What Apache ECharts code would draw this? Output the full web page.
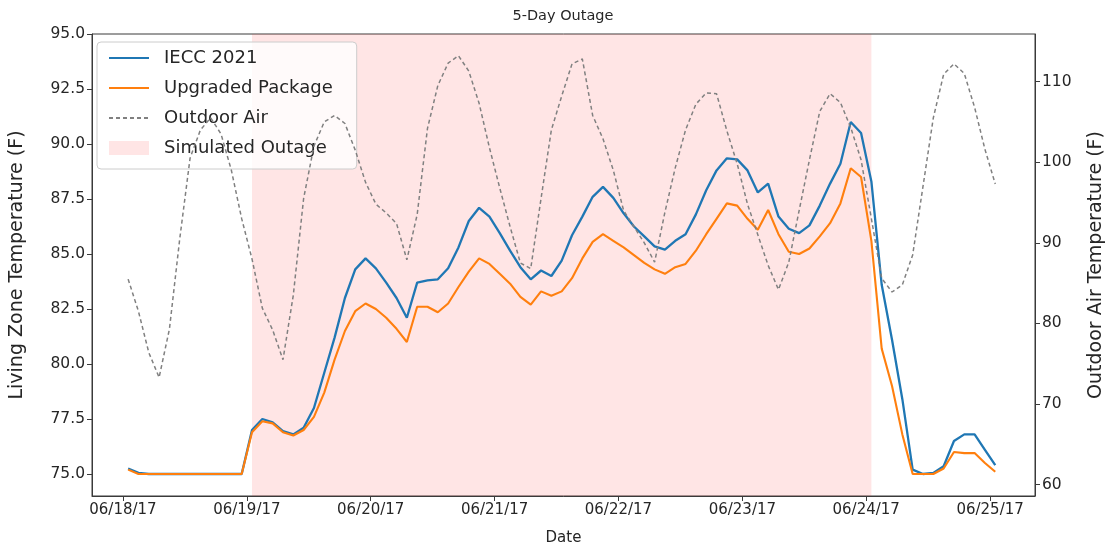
<!DOCTYPE html>
<html>
<head>
<meta charset="utf-8">
<script src="https://cdn.jsdelivr.net/npm/echarts@6/dist/echarts.min.js"></script>
<style>
  html, body { margin: 0; padding: 0; background: #ffffff; }
  #chart { width: 1112px; height: 549px; }
</style>
</head>
<body>
<div id="chart"></div>
<script>
// Time is counted in hours from 06/18/17 00:00; samples are two-hourly from 01:00
const firstSampleHour = 1;
const sampleStepHours = 2;

// Living zone temperature (F), IECC 2021 house
const iecc2021 = [
  75.25, 75.05, 75.0, 75.0, 75.0, 75.0, 75.0, 75.0, 75.0, 75.0, 75.0, 75.0,
  77.0, 77.5, 77.35, 76.95, 76.8, 77.1, 78.0, 79.6, 81.2, 83.0, 84.3, 84.8,
  84.35, 83.7, 83.0, 82.1, 83.7, 83.8, 83.85, 84.35, 85.3, 86.5, 87.1, 86.7,
  85.95, 85.15, 84.4, 83.85, 84.25, 84.0, 84.7, 85.85, 86.7, 87.6, 88.05, 87.55,
  86.85, 86.25, 85.8, 85.35, 85.2, 85.6, 85.9, 86.8, 87.9, 88.8, 89.35, 89.3,
  88.8, 87.8, 88.2, 86.7, 86.15, 85.95, 86.3, 87.2, 88.2, 89.1, 91.0, 90.5,
  88.3, 83.6, 81.1, 78.4, 75.2, 75.0, 75.05, 75.35, 76.5, 76.8, 76.8, 76.1, 75.4
];

// Living zone temperature (F), upgraded package
const upgradedPackage = [
  75.2, 75.0, 75.0, 75.0, 75.0, 75.0, 75.0, 75.0, 75.0, 75.0, 75.0, 75.0,
  76.9, 77.4, 77.3, 76.9, 76.75, 77.0, 77.6, 78.7, 80.2, 81.5, 82.4, 82.75,
  82.5, 82.1, 81.6, 81.0, 82.6, 82.6, 82.35, 82.75, 83.5, 84.2, 84.8, 84.55,
  84.1, 83.65, 83.05, 82.7, 83.3, 83.1, 83.3, 83.9, 84.8, 85.55, 85.9, 85.6,
  85.3, 84.95, 84.6, 84.3, 84.1, 84.4, 84.55, 85.15, 85.9, 86.6, 87.3, 87.2,
  86.6, 86.1, 87.0, 85.9, 85.1, 85.0, 85.25, 85.8, 86.4, 87.3, 88.9, 88.5,
  85.6, 80.7, 79.0, 76.8, 75.0, 75.0, 75.0, 75.25, 76.0, 75.95, 75.95, 75.5, 75.1
];

// Outdoor air temperature (F)
const outdoorAir = [
  85.5, 81.5, 76.4, 73.3, 79.3, 90.5, 100.5, 104.0, 105.5, 103.5, 99.0, 93.0,
  88.0, 81.9, 79.2, 75.5, 83.5, 95.5, 102.0, 105.0, 105.8, 104.8, 101.5, 97.5,
  94.8, 93.7, 92.4, 87.9, 93.5, 104.2, 109.5, 112.3, 113.2, 111.3, 107.3, 101.8,
  96.8, 92.0, 87.5, 86.8, 95.5, 104.0, 108.2, 112.2, 112.8, 105.8, 102.9, 99.0,
  94.0, 92.0, 90.0, 87.6, 93.8, 99.3, 104.0, 107.2, 108.6, 108.5, 103.9, 99.8,
  94.8, 91.0, 87.2, 84.2, 87.6, 94.0, 100.3, 106.3, 108.5, 107.4, 104.3, 100.3,
  93.0, 85.6, 83.9, 84.8, 88.5, 97.0, 105.5, 110.9, 112.2, 111.0, 106.8, 101.6, 97.3
];

// Axis ticks
const dateTicks = ['06/18/17', '06/19/17', '06/20/17', '06/21/17', '06/22/17', '06/23/17', '06/24/17', '06/25/17'];
const zoneTempTicks = [75.0, 77.5, 80.0, 82.5, 85.0, 87.5, 90.0, 92.5, 95.0];
const outdoorTempTicks = [60, 70, 80, 90, 100, 110];

// Simulated outage window, hours from 06/18/17 00:00
const outageWindow = [25, 145];

// Axis ranges
const hourRange = [-6, 176.7];
const zoneTempRange = [74, 95];
const outdoorTempRange = [58.6, 115.9];

const pairs = arr => arr.map((v, i) => [firstSampleHour + i * sampleStepHours, v]);
const dayTickHours = dateTicks.map((_, i) => i * 24);

const FONT = 'DejaVu Sans';
const INK = '#262626';
const FRAME = '#3a3a3a';
const OUTAGE_FILL = 'rgba(255,40,40,0.12)';

// line entries in the legend show only their stroke, no marker
const lineLegendItem = name => ({ name, itemStyle: { opacity: 0 } });

const chart = echarts.init(document.getElementById('chart'), null, { renderer: 'canvas' });

chart.setOption({
  animation: false,
  backgroundColor: '#ffffff',
  textStyle: { fontFamily: FONT, color: INK },
  title: {
    text: '5-Day Outage',
    left: 563,
    top: 9,
    padding: 0,
    textAlign: 'center',
    textStyle: { fontFamily: FONT, fontSize: 14.5, fontWeight: 'normal', color: INK }
  },
  grid: {
    left: 92, right: 77, top: 34, bottom: 53,
    show: true, borderColor: FRAME, borderWidth: 1,
    containLabel: false, outerBoundsMode: 'none'
  },
  legend: {
    orient: 'vertical',
    left: 97,
    top: 42,
    padding: [7, 24, 12, 11],
    itemWidth: 40,
    itemHeight: 14,
    itemGap: 12,
    backgroundColor: 'rgba(255,255,255,0.8)',
    borderColor: '#cccccc',
    borderWidth: 1,
    borderRadius: 4,
    textStyle: { fontFamily: FONT, fontSize: 18, color: INK, padding: [0, 0, 0, 10] },
    data: [
      lineLegendItem('IECC 2021'),
      lineLegendItem('Upgraded Package'),
      lineLegendItem('Outdoor Air'),
      { name: 'Simulated Outage', icon: 'rect', itemStyle: { color: OUTAGE_FILL } }
    ]
  },
  xAxis: {
    type: 'value',
    min: hourRange[0],
    max: hourRange[1],
    name: 'Date',
    nameLocation: 'middle',
    nameGap: 35,
    nameTextStyle: { fontFamily: FONT, fontSize: 15, color: INK },
    axisLine: { show: true, onZero: false, lineStyle: { color: FRAME, width: 1 } },
    axisTick: { show: true, length: 5, lineStyle: { color: FRAME }, customValues: dayTickHours },
    axisLabel: {
      fontFamily: FONT, fontSize: 15, color: INK, margin: 7,
      customValues: dayTickHours,
      formatter: v => dateTicks[Math.round(v / 24)] || ''
    },
    splitLine: { show: false }
  },
  yAxis: [
    {
      type: 'value',
      position: 'left',
      min: zoneTempRange[0],
      max: zoneTempRange[1],
      name: 'Living Zone Temperature (F)',
      nameLocation: 'middle',
      nameRotate: 90,
      nameGap: 65,
      nameTextStyle: { fontFamily: FONT, fontSize: 19, color: INK },
      axisLine: { show: true, onZero: false, lineStyle: { color: FRAME, width: 1 } },
      axisTick: { show: true, length: 5, lineStyle: { color: FRAME }, customValues: zoneTempTicks },
      axisLabel: {
        fontFamily: FONT, fontSize: 15.5, color: INK, margin: 7,
        customValues: zoneTempTicks,
        formatter: v => Number(v).toFixed(1)
      },
      splitLine: { show: false }
    },
    {
      type: 'value',
      position: 'right',
      min: outdoorTempRange[0],
      max: outdoorTempRange[1],
      name: 'Outdoor Air Temperature (F)',
      nameLocation: 'middle',
      nameRotate: 90,
      nameGap: 52,
      nameTextStyle: { fontFamily: FONT, fontSize: 19, color: INK },
      axisLine: { show: true, onZero: false, lineStyle: { color: FRAME, width: 1 } },
      axisTick: { show: true, length: 5, lineStyle: { color: FRAME }, customValues: outdoorTempTicks },
      axisLabel: {
        fontFamily: FONT, fontSize: 15.5, color: INK, margin: 7,
        customValues: outdoorTempTicks,
        formatter: v => String(Math.round(v))
      },
      splitLine: { show: false }
    }
  ],
  series: [
    {
      name: 'Simulated Outage',
      type: 'line',
      yAxisIndex: 0,
      data: [],
      z: 1,
      symbol: 'none',
      itemStyle: { color: OUTAGE_FILL },
      lineStyle: { width: 0 },
      markArea: {
        silent: true,
        itemStyle: { color: OUTAGE_FILL },
        data: [[{ xAxis: outageWindow[0] }, { xAxis: outageWindow[1] }]]
      }
    },
    {
      name: 'IECC 2021',
      type: 'line',
      yAxisIndex: 0,
      data: pairs(iecc2021),
      symbol: 'none',
      z: 3,
      itemStyle: { color: '#1f77b4' },
      lineStyle: { color: '#1f77b4', width: 2.3 }
    },
    {
      name: 'Upgraded Package',
      type: 'line',
      yAxisIndex: 0,
      data: pairs(upgradedPackage),
      symbol: 'none',
      z: 4,
      itemStyle: { color: '#ff7f0e' },
      lineStyle: { color: '#ff7f0e', width: 2.1 }
    },
    {
      name: 'Outdoor Air',
      type: 'line',
      yAxisIndex: 1,
      data: pairs(outdoorAir),
      symbol: 'none',
      z: 5,
      itemStyle: { color: '#808080' },
      lineStyle: { color: '#808080', width: 1.5, type: [4, 3] }
    }
  ]
});
</script>
</body>
</html>
